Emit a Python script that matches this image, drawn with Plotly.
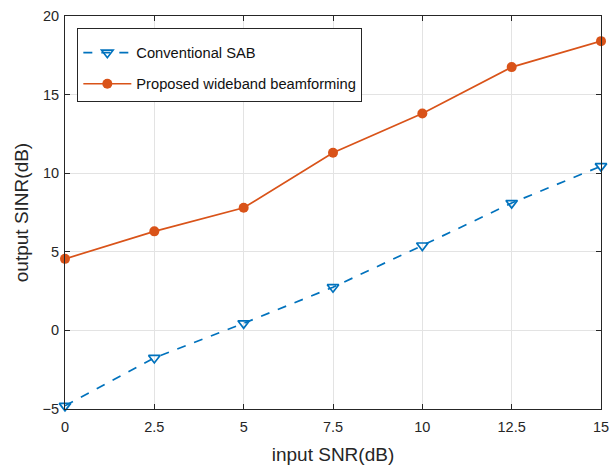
import plotly.graph_objects as go

snr_in = [0, 2.5, 5, 7.5, 10, 12.5, 15]
sab = [-4.8, -1.75, 0.45, 2.75, 5.4, 8.1, 10.45]
proposed = [4.55, 6.3, 7.8, 11.3, 13.8, 16.75, 18.4]
x_ticks = [0, 2.5, 5, 7.5, 10, 12.5, 15]
x_ticklabels = ["0", "2.5", "5", "7.5", "10", "12.5", "15"]
y_ticks = [-5, 0, 5, 10, 15, 20]

blue = "#0072BD"
orange = "#D95319"
ink = "#262626"
FONT = "Liberation Sans, Arial, Helvetica, sans-serif"

fig = go.Figure()
fig.add_trace(go.Scatter(
    x=snr_in, y=sab, mode="lines+markers", name="Conventional SAB",
    line=dict(color=blue, width=1.7, dash="dash"),
    marker=dict(symbol="triangle-down-open", size=10, color=blue, line=dict(width=1.7, color=blue)),
    legendgroup="a", cliponaxis=False,
))
fig.add_trace(go.Scatter(
    x=snr_in, y=proposed, mode="lines+markers", name="Proposed wideband beamforming",
    line=dict(color=orange, width=1.7),
    marker=dict(symbol="circle", size=10, color=orange),
    legendgroup="b", cliponaxis=False,
))

axis_common = dict(
    showline=True, linecolor=ink, linewidth=1, mirror="allticks",
    ticks="inside", ticklen=5, tickcolor=ink,
    showgrid=True, gridcolor="#e3e3e3", gridwidth=1,
    zeroline=False, tickfont=dict(family=FONT, size=14.5, color=ink),
    ticklabeloverflow="allow", automargin=False,
)

fig.update_layout(
    width=611, height=468,
    margin=dict(l=65, r=10, t=16, b=59),
    paper_bgcolor="white", plot_bgcolor="white",
    font=dict(family=FONT, color=ink),
    xaxis=dict(range=[0, 15], tickvals=x_ticks, ticktext=x_ticklabels, ticklabelstandoff=5,
               title=dict(text="input SNR(dB)", font=dict(size=19, color=ink), standoff=13),
               **axis_common),
    yaxis=dict(range=[-5, 20], tickvals=y_ticks, ticklabelstandoff=2,
               title=dict(text="output SINR(dB)", font=dict(size=19, color=ink), standoff=8),
               **axis_common),
    legend=dict(x=0.023, y=0.970, xanchor="left", yanchor="top",
                bordercolor=ink, borderwidth=1, bgcolor="white",
                font=dict(family=FONT, size=14.7, color="#111111"),
                itemwidth=48,
                title=dict(text=" ", font=dict(size=6)),
                traceorder="grouped", tracegroupgap=9),
    showlegend=True,
)

fig.write_html("out.html")
